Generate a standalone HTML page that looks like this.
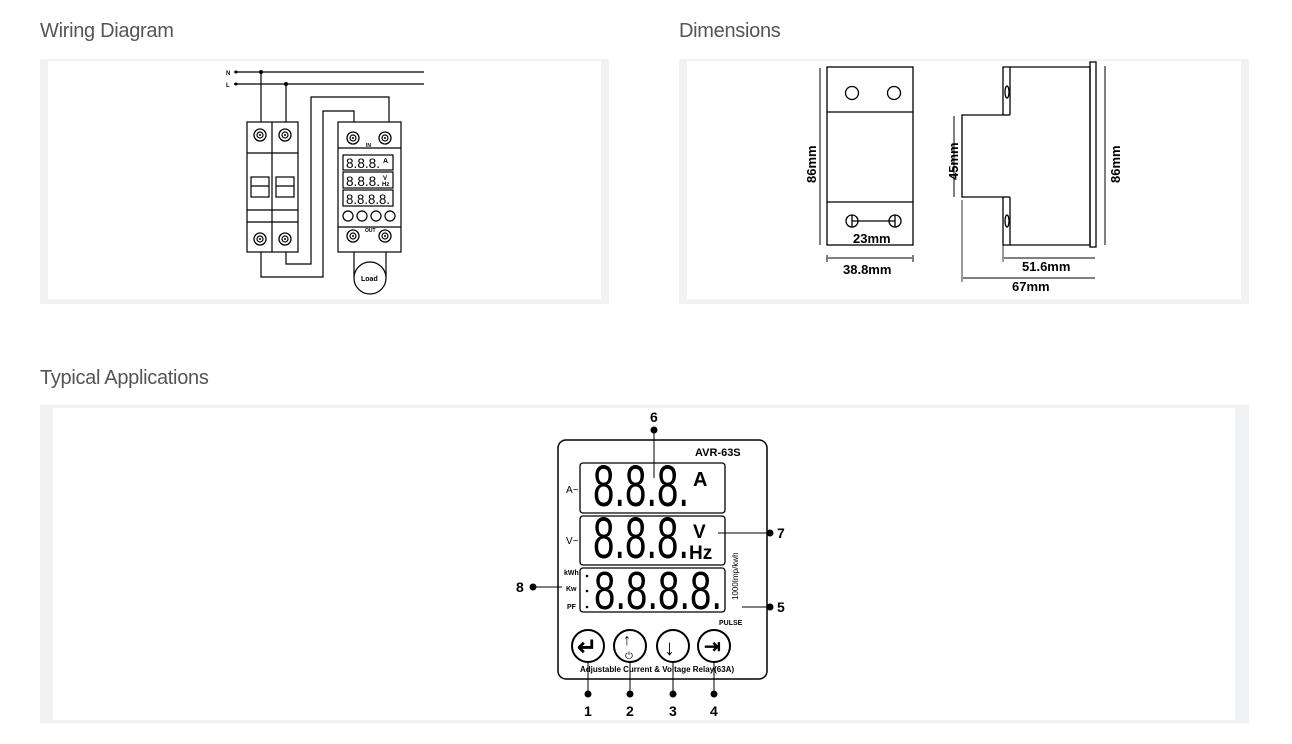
<!DOCTYPE html>
<html><head><meta charset="utf-8"><style>
html,body{margin:0;padding:0;background:#fff;}
body{width:1292px;height:744px;overflow:hidden;position:relative;font-family:"Liberation Sans",sans-serif;}
.t{position:absolute;font-size:20px;color:#555;letter-spacing:-0.3px;}
</style></head><body>
<div class="t" style="left:40px;top:20px">Wiring Diagram</div>
<div class="t" style="left:679px;top:20px">Dimensions</div>
<div class="t" style="left:40px;top:367px">Typical Applications</div>
<svg width="1292" height="744" style="position:absolute;left:0;top:0" font-family="Liberation Sans, sans-serif">
<defs>
<g id="term"><circle r="6" fill="#fff" stroke="#000" stroke-width="1.3"/><circle r="3" fill="none" stroke="#000" stroke-width="1.2"/><circle r="1" fill="#000"/></g>
</defs>
<rect x="40" y="59" width="569" height="245" fill="#f1f2f4"/>
<rect x="48" y="61" width="553" height="238" fill="#fff"/>
<rect x="679" y="59" width="570" height="245" fill="#f1f2f4"/>
<rect x="687" y="61" width="554" height="238" fill="#fff"/>
<rect x="40" y="405" width="1209" height="318" fill="#f1f2f4"/>
<rect x="53" y="408" width="1182" height="312" fill="#fff"/>

<g stroke="#000" stroke-width="1.2" fill="none">
<line x1="234" y1="72" x2="424" y2="72"/><line x1="234" y1="84" x2="424" y2="84"/>
<line x1="261" y1="72" x2="261" y2="122"/><line x1="286" y1="84" x2="286" y2="122"/>
<rect x="247" y="122" width="51" height="130"/>
<line x1="272" y1="122" x2="272" y2="252"/>
<line x1="247" y1="153" x2="298" y2="153"/><line x1="247" y1="222" x2="298" y2="222"/>
<line x1="247" y1="210" x2="298" y2="210"/>
<rect x="251" y="177" width="18" height="20"/><rect x="276" y="177" width="18" height="20"/>
<line x1="251" y1="186" x2="269" y2="186"/><line x1="276" y1="186" x2="294" y2="186"/>
<polyline points="261,252 261,277 323,277 323,111 354,111 354,122"/>
<polyline points="286,252 286,264 311,264 311,97 389,97 389,122"/>
<rect x="338" y="122" width="63" height="130"/>
<line x1="338" y1="148" x2="401" y2="148"/><line x1="338" y1="227" x2="401" y2="227"/>
<rect x="343" y="155" width="50" height="15"/><rect x="343" y="172" width="50" height="16"/><rect x="343" y="190" width="50" height="16"/>
<line x1="354" y1="252" x2="354" y2="278"/><line x1="386" y1="252" x2="386" y2="278"/>
<circle cx="370" cy="278" r="16" fill="#fff"/>
</g>
<circle cx="261" cy="72" r="2" fill="#000"/><circle cx="286" cy="84" r="2" fill="#000"/>
<circle cx="236" cy="72" r="1.5" fill="#000"/><circle cx="236" cy="84" r="1.5" fill="#000"/>
<text x="226" y="75" font-size="6" font-weight="bold">N</text><text x="226" y="87" font-size="6" font-weight="bold">L</text>
<use href="#term" x="260" y="135"/><use href="#term" x="285" y="135"/>
<use href="#term" x="260" y="239"/><use href="#term" x="285" y="239"/>
<use href="#term" x="353" y="138"/><use href="#term" x="385" y="138"/>
<use href="#term" x="353" y="236"/><use href="#term" x="385" y="236"/>
<g font-family="Liberation Sans Narrow, Liberation Sans, sans-serif">
<text x="346" y="168" font-size="14" textLength="34" lengthAdjust="spacingAndGlyphs">8.8.8.</text><text x="383" y="163" font-size="7" font-weight="bold">A</text>
<text x="346" y="186" font-size="14" textLength="34" lengthAdjust="spacingAndGlyphs">8.8.8.</text><text x="383" y="180" font-size="6" font-weight="bold">V</text><text x="382" y="186" font-size="6" font-weight="bold">Hz</text>
<text x="346" y="204" font-size="14" textLength="44" lengthAdjust="spacingAndGlyphs">8.8.8.8.</text>
</g>
<g fill="none" stroke="#000" stroke-width="1.2"><circle cx="348" cy="216" r="5"/><circle cx="362" cy="216" r="5"/><circle cx="376" cy="216" r="5"/><circle cx="390" cy="216" r="5"/></g>
<text x="366" y="147" font-size="5" font-weight="bold">IN</text><text x="365" y="232" font-size="5" font-weight="bold">OUT</text>
<text x="361" y="281" font-size="7" font-weight="bold">Load</text>

<g stroke="#000" stroke-width="1.3" fill="none">
<rect x="827" y="67" width="86" height="178"/>
<line x1="827" y1="112" x2="913" y2="112"/><line x1="827" y1="202" x2="913" y2="202"/>
<circle cx="852" cy="93" r="6.5"/><circle cx="894" cy="93" r="6.5"/>
<circle cx="852" cy="221" r="6"/><circle cx="895" cy="221" r="6"/>
<line x1="852" y1="221" x2="895" y2="221"/>
<line x1="852" y1="215" x2="852" y2="227"/><line x1="895" y1="215" x2="895" y2="227"/>
<line x1="820" y1="68" x2="820" y2="245" stroke-width="1"/>
<line x1="827" y1="255" x2="827" y2="262" stroke-width="1"/><line x1="913" y1="255" x2="913" y2="262" stroke-width="1"/>
<line x1="828" y1="258" x2="912" y2="258" stroke-width="1"/>
<polygon points="1003,67 1090,67 1090,245 1003,245 1003,197 962,197 962,115 1003,115"/>
<line x1="1010" y1="67" x2="1010" y2="115"/><line x1="1010" y1="197" x2="1010" y2="245"/>
<line x1="1003" y1="115" x2="1010" y2="115"/><line x1="1003" y1="197" x2="1010" y2="197"/>
<rect x="1090" y="62" width="6" height="185"/>
<ellipse cx="1007" cy="92" rx="2" ry="6"/><ellipse cx="1007" cy="221" rx="2" ry="6"/>
<line x1="954" y1="116" x2="954" y2="197" stroke-width="1"/>
<line x1="1105" y1="66" x2="1105" y2="245" stroke-width="1"/>
<line x1="1004" y1="258" x2="1095" y2="258" stroke-width="1"/>
<line x1="963" y1="278" x2="1095" y2="278" stroke-width="1"/>
<line x1="962" y1="200" x2="962" y2="282" stroke-width="0.8"/>
<line x1="1003" y1="245" x2="1003" y2="262" stroke-width="0.8"/>
</g>
<g font-size="13" fill="#000" font-weight="bold">
<text x="853" y="243">23mm</text>
<text x="843" y="274">38.8mm</text>
<text x="1022" y="271">51.6mm</text>
<text x="1012" y="291">67mm</text>
<text transform="translate(816,183) rotate(-90)">86mm</text>
<text transform="translate(958,180) rotate(-90)">45mm</text>
<text transform="translate(1120,183) rotate(-90)">86mm</text>
</g>

<g stroke="#000" fill="none">
<rect x="558" y="440" width="209" height="239" rx="8" stroke-width="1.5"/>
<rect x="580" y="463" width="145" height="50" rx="3" stroke-width="1.3"/>
<rect x="580" y="516" width="145" height="49" rx="3" stroke-width="1.3"/>
<rect x="580" y="568" width="145" height="44" rx="3" stroke-width="1.3"/>
<circle cx="588" cy="646" r="16" stroke-width="2"/><circle cx="630" cy="646" r="16" stroke-width="2"/>
<circle cx="673" cy="646" r="16" stroke-width="2"/><circle cx="714" cy="646" r="16" stroke-width="2"/>
<line x1="654" y1="430" x2="654" y2="478" stroke-width="1"/>
<line x1="718" y1="533" x2="770" y2="533" stroke-width="1"/>
<line x1="742" y1="607" x2="770" y2="607" stroke-width="1"/>
<line x1="533" y1="587" x2="562" y2="587" stroke-width="1"/>
<line x1="588" y1="662" x2="588" y2="694" stroke-width="1"/><line x1="630" y1="662" x2="630" y2="694" stroke-width="1"/>
<line x1="673" y1="662" x2="673" y2="694" stroke-width="1"/><line x1="714" y1="662" x2="714" y2="694" stroke-width="1"/>
</g>
<g fill="#000">
<circle cx="654" cy="430" r="3.5"/><circle cx="770" cy="533" r="3.5"/><circle cx="770" cy="607" r="3.5"/><circle cx="533" cy="587" r="3.5"/>
<circle cx="588" cy="694" r="3.5"/><circle cx="630" cy="694" r="3.5"/><circle cx="673" cy="694" r="3.5"/><circle cx="714" cy="694" r="3.5"/>
<g font-size="14" font-weight="bold">
<text x="650" y="422">6</text><text x="777" y="538">7</text><text x="777" y="612">5</text><text x="516" y="592">8</text>
<text x="584" y="716">1</text><text x="626" y="716">2</text><text x="669" y="716">3</text><text x="710" y="716">4</text>
</g>
<text x="695" y="456" font-size="11" font-weight="bold">AVR-63S</text>
<text x="566" y="493" font-size="10">A~</text><text x="566" y="544" font-size="10">V~</text>
<text x="564" y="575" font-size="7" font-weight="bold">kWh</text><text x="566" y="591" font-size="7" font-weight="bold">Kw</text><text x="567" y="609" font-size="7" font-weight="bold">PF</text>
<text x="719" y="625" font-size="7" font-weight="bold">PULSE</text>
<text transform="translate(738,600) rotate(-90)" font-size="8">1000Imp/kwh</text>
<text x="580" y="672" font-size="8" font-weight="bold">Adjustable Current &amp; Voltage Relay(63A)</text>
<text x="693" y="486" font-size="20" font-weight="bold">A</text>
<text x="693" y="538" font-size="19" font-weight="bold">V</text>
<text x="689" y="559" font-size="19" font-weight="bold">Hz</text>
<text x="593" y="506" font-size="58" textLength="96" lengthAdjust="spacingAndGlyphs" font-family="Liberation Sans Narrow, Liberation Sans, sans-serif">8.8.8.</text>
<text x="593" y="558" font-size="58" textLength="96" lengthAdjust="spacingAndGlyphs" font-family="Liberation Sans Narrow, Liberation Sans, sans-serif">8.8.8.</text>
<text x="594" y="609" font-size="54" textLength="128" lengthAdjust="spacingAndGlyphs" font-family="Liberation Sans Narrow, Liberation Sans, sans-serif">8.8.8.8.</text>
<circle cx="587" cy="576" r="1.3"/><circle cx="587" cy="591" r="1.3"/><circle cx="587" cy="607" r="1.3"/>
<text x="577" y="655" font-size="24" font-weight="bold">↵</text>
<text x="623" y="645" font-size="16" font-weight="bold">↑</text><text x="625" y="659" font-size="10">⏻</text>
<text x="664" y="655" font-size="22" font-weight="bold">↓</text>
<text x="704" y="653" font-size="20" font-weight="bold">⇥</text>
</g>
</svg>
</body></html>
